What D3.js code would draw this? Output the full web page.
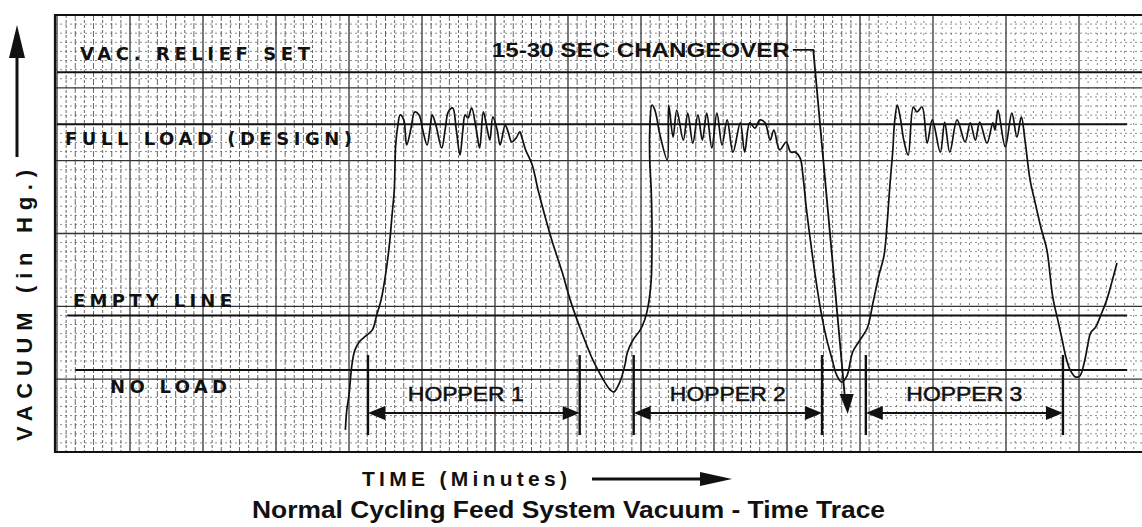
<!DOCTYPE html>
<html>
<head>
<meta charset="utf-8">
<script src="https://cdn.jsdelivr.net/npm/d3@7"></script>
<style>
  html, body { margin: 0; padding: 0; background: #fff; }
  svg { display: block; }
</style>
</head>
<body>
<svg id="chart" width="1142" height="527"></svg>
<script>
// Recorder trace: elapsed time (minutes) and vacuum (in Hg)
const traceTime = [
  3.95,3.97,4.00,4.04,4.08,4.14,4.23,4.32,4.38,4.44,4.51,4.56,4.59,4.62,4.63,4.64,4.67,4.70,
  4.75,4.79,4.85,4.90,4.96,5.01,5.07,5.11,5.14,5.19,5.27,5.32,5.36,5.42,5.47,5.52,5.56,5.59,5.63,5.68,
  5.74,5.79,5.84,5.89,5.93,5.97,6.03,6.07,6.14,6.18,6.23,6.29,6.34,6.37,6.42,6.51,
  6.59,6.68,6.79,6.92,7.03,7.16,7.34,7.47,7.58,7.63,7.71,7.78,7.81,7.89,7.99,8.05,8.10,8.14,8.15,8.15,8.14,8.12,8.12,8.15,
  8.19,8.26,8.36,8.38,8.44,8.49,8.58,8.64,8.71,8.78,8.84,8.90,8.97,9.04,9.11,9.18,9.26,9.36,9.42,9.49,
  9.56,9.63,9.70,9.77,9.82,9.90,9.99,10.05,10.11,10.18,
  10.22,10.26,10.32,10.38,10.45,10.53,10.62,10.68,10.75,10.82,10.90,11.00,11.10,11.18,11.26,11.33,11.37,11.41,11.45,11.47,11.51,
  11.55,11.60,11.66,11.73,11.78,11.85,11.92,11.99,12.10,12.16,12.23,12.33,12.44,12.51,12.58,12.64,12.74,12.82,12.85,12.89,
  12.99,13.08,13.15,13.21,13.26,
  13.33,13.40,13.48,13.56,13.64,13.71,13.77,13.82,13.88,13.95,14.01,14.08,14.12,14.16,14.23,14.30,14.38,14.45,14.52
];
const traceVacuum = [
  0.81,1.54,2.09,3.19,3.73,4.03,4.25,4.47,5.02,5.57,6.66,7.76,8.68,9.59,10.51,11.24,11.97,12.34,
  12.16,11.24,11.86,12.45,12.34,11.79,11.24,11.86,12.34,11.97,11.13,11.86,12.45,12.60,11.79,10.87,11.79,12.34,12.23,12.60,
  11.86,11.13,12.45,11.86,11.42,12.27,11.79,11.24,11.97,11.72,11.35,11.50,11.72,11.50,11.06,10.51,
  9.59,8.68,7.65,6.59,5.57,4.58,3.37,2.71,2.27,2.20,2.56,3.19,3.62,4.10,4.47,4.83,5.38,6.30,7.40,8.49,9.59,10.69,11.79,12.70,
  12.52,11.61,10.69,12.70,11.53,12.52,11.42,12.41,11.31,12.34,11.42,12.41,11.13,12.41,11.24,12.16,10.98,12.05,10.98,12.05,
  11.86,12.16,12.05,11.42,11.79,11.06,11.35,10.98,10.98,10.76,
  10.07,9.04,7.76,6.59,5.38,4.28,3.37,2.82,2.56,2.78,3.66,4.10,4.54,5.49,6.48,7.21,8.31,9.78,11.06,11.97,12.70,
  12.27,11.42,10.87,12.63,12.45,12.63,11.31,12.16,10.98,12.08,10.98,12.16,11.35,12.05,11.42,12.08,11.31,12.05,11.79,12.52,
  11.17,12.41,11.53,12.27,11.42,
  9.96,9.12,8.20,7.40,5.68,4.83,4.10,3.48,3.00,2.75,2.78,3.37,3.92,4.36,4.58,5.02,5.57,6.22,6.92
];

// Reference vacuum levels
const levelNames  = ["VAC. RELIEF SET", "FULL LOAD (DESIGN)", "EMPTY LINE", "NO LOAD"];
const levelValues = [13.9, 12.0, 5.0, 3.0];
const levelFrom   = [0, 0, 0.14, 0.25];
const levelTo     = [15, 14.66, 14.66, 14.66];

// Hopper fill intervals (minutes)
const hopperNames = ["HOPPER 1", "HOPPER 2", "HOPPER 3"];
const hopperStart = [4.26, 7.90, 11.08];
const hopperEnd   = [7.16, 10.48, 13.78];

// Changeover marker (minutes, in Hg)
const changeoverLabel = "15-30 SEC CHANGEOVER";
const changeoverTime  = [10.08, 10.36, 10.79];
const changeoverVac   = [14.72, 14.72, 2.09];

// Chart paper divisions
const timeMax = 15, vacMax = 16;
const timeMinorStep = 1 / 8, vacMinorStep = 1 / 3, majorEvery = 8;

const svg = d3.select("#chart");
const W = 1142, H = 527;
const plot = { left: 55, top: 15, right: 1142, bottom: 452 };

const x = d3.scaleLinear().domain([0, timeMax]).range([57, 57 + 73 * timeMax]);
const y = d3.scaleLinear().domain([0, vacMax]).range([452, 15]);

svg.append("rect").attr("width", W).attr("height", H).attr("fill", "#fff");

svg.append("defs").append("clipPath").attr("id", "plotClip")
  .append("rect")
  .attr("x", plot.left).attr("y", plot.top)
  .attr("width", plot.right - plot.left).attr("height", plot.bottom - plot.top);

const paper = svg.append("g").attr("clip-path", "url(#plotClip)");

// Minor grid: horizontal dotted rows
const hVals = d3.range(0, vacMax + 1e-6, vacMinorStep);
paper.append("g").selectAll("line")
  .data(hVals.filter((d, i) => i % majorEvery !== 0))
  .join("line")
  .attr("x1", plot.left).attr("x2", plot.right)
  .attr("y1", d => y(d)).attr("y2", d => y(d))
  .attr("stroke", "#444").attr("stroke-width", 1)
  .attr("stroke-dasharray", "2,3").attr("opacity", 0.6);

// Minor grid: vertical lines (denser, darker ruling on the left of the strip)
const vVals = d3.range(0, timeMax + 1e-6, timeMinorStep);
paper.append("g").selectAll("line")
  .data(vVals.filter((d, i) => i % majorEvery !== 0))
  .join("line")
  .attr("x1", d => x(d)).attr("x2", d => x(d))
  .attr("y1", plot.top).attr("y2", plot.bottom)
  .attr("stroke", d => d < 11.3 ? "#444" : "#555")
  .attr("stroke-width", 1)
  .attr("stroke-dasharray", (d, i) => d < 11.3 ? (i % 2 ? "6,2" : "3,2") : "2,4")
  .attr("opacity", d => d < 11.3 ? 0.8 : 0.7);

// Major grid
paper.append("g").selectAll("line")
  .data(hVals.filter((d, i) => i % majorEvery === 0))
  .join("line")
  .attr("x1", plot.left).attr("x2", plot.right)
  .attr("y1", d => y(d)).attr("y2", d => y(d))
  .attr("stroke", "#333").attr("stroke-width", 1.3);

paper.append("g").selectAll("line")
  .data(vVals.filter((d, i) => i % majorEvery === 0))
  .join("line")
  .attr("x1", d => x(d)).attr("x2", d => x(d))
  .attr("y1", plot.top).attr("y2", plot.bottom)
  .attr("stroke", "#333").attr("stroke-width", 1.3);

// Reference level lines
paper.append("g").selectAll("line")
  .data(levelValues)
  .join("line")
  .attr("x1", (d, i) => x(levelFrom[i])).attr("x2", (d, i) => x(levelTo[i]))
  .attr("y1", d => y(d)).attr("y2", d => y(d))
  .attr("stroke", "#111").attr("stroke-width", 2);

// Frame
svg.append("path")
  .attr("d", `M${plot.right + 2},${plot.top} H${plot.left} V${plot.bottom} H${plot.right + 2}`)
  .attr("fill", "none").attr("stroke", "#111").attr("stroke-width", 2.2);

// Level labels
const stencilFont = "'DejaVu Sans', 'Liberation Sans', sans-serif";
const levelLabelLayout = [
  { x: 80, y: 60, w: 230 },
  { x: 65, y: 145, w: 287 },
  { x: 73, y: 307, w: 159 },
  { x: 110, y: 393, w: 117 }
];
svg.append("g").selectAll("text")
  .data(levelNames)
  .join("text")
  .attr("x", (d, i) => levelLabelLayout[i].x)
  .attr("y", (d, i) => levelLabelLayout[i].y)
  .attr("textLength", (d, i) => levelLabelLayout[i].w)
  .attr("lengthAdjust", "spacing")
  .attr("font-family", stencilFont)
  .attr("font-weight", "bold")
  .attr("font-size", 18)
  .attr("fill", "#111")
  .text(d => d);

// Vacuum trace
const points = traceTime.map((t, i) => [t, traceVacuum[i]]);
const traceLine = d3.line()
  .x(d => x(d[0])).y(d => y(d[1]))
  .curve(d3.curveCatmullRom.alpha(0.5));
paper.append("path")
  .datum(points)
  .attr("d", traceLine)
  .attr("fill", "none")
  .attr("stroke", "#111")
  .attr("stroke-width", 1.7)
  .attr("stroke-linejoin", "round");

// Hopper intervals: bars, double arrows and labels
const barTop = 3.55, barBottom = 0.62, arrowVac = 1.43, hopperLabelVac = 1.87;
const head = 17, halfHead = 7;
const hopG = svg.append("g");
hopperNames.forEach((name, i) => {
  const x0 = x(hopperStart[i]), x1 = x(hopperEnd[i]), ya = y(arrowVac);
  [x0, x1].forEach(bx => {
    hopG.append("line")
      .attr("x1", bx).attr("x2", bx)
      .attr("y1", y(barTop)).attr("y2", y(barBottom))
      .attr("stroke", "#111").attr("stroke-width", 2.4);
  });
  hopG.append("line")
    .attr("x1", x0 + head - 2).attr("x2", x1 - head + 2)
    .attr("y1", ya).attr("y2", ya)
    .attr("stroke", "#111").attr("stroke-width", 2);
  hopG.append("path")
    .attr("d", `M${x0},${ya} L${x0 + head},${ya - halfHead} L${x0 + head},${ya + halfHead} Z`)
    .attr("fill", "#111");
  hopG.append("path")
    .attr("d", `M${x1},${ya} L${x1 - head},${ya - halfHead} L${x1 - head},${ya + halfHead} Z`)
    .attr("fill", "#111");
  hopG.append("text")
    .attr("x", (x0 + x1) / 2 + (i === 0 ? -8 : 0))
    .attr("y", y(hopperLabelVac))
    .attr("text-anchor", "middle")
    .attr("textLength", 116)
    .attr("lengthAdjust", "spacingAndGlyphs")
    .attr("font-family", "'Liberation Sans', Arial, sans-serif")
    .attr("font-size", 20)
    .attr("fill", "#111")
    .attr("stroke", "#111").attr("stroke-width", 0.5)
    .text(name);
});

// Changeover marker
const coPts = changeoverTime.map((t, i) => [x(t), y(changeoverVac[i])]);
svg.append("path")
  .attr("d", d3.line()(coPts))
  .attr("fill", "none").attr("stroke", "#111").attr("stroke-width", 1.8);
const tip = [coPts[2][0] + 3, coPts[2][1] + 19];
svg.append("path")
  .attr("d", `M${tip[0]},${tip[1]} L${coPts[2][0] - 5},${coPts[2][1] - 1} L${coPts[2][0] + 9},${coPts[2][1] - 1} Z`)
  .attr("fill", "#111");
svg.append("text")
  .attr("x", coPts[0][0] - 3).attr("y", 57)
  .attr("text-anchor", "end")
  .attr("textLength", 298)
  .attr("lengthAdjust", "spacingAndGlyphs")
  .attr("font-family", "'Liberation Sans', Arial, sans-serif")
  .attr("font-weight", "bold")
  .attr("font-size", 20)
  .attr("fill", "#111")
  .text(changeoverLabel);

// Axis titles
svg.append("text")
  .attr("transform", "translate(32,441) rotate(-90)")
  .attr("textLength", 271)
  .attr("lengthAdjust", "spacing")
  .attr("font-family", "'Liberation Sans', Arial, sans-serif")
  .attr("font-weight", "bold")
  .attr("font-size", 22)
  .attr("fill", "#111")
  .text("VACUUM (in Hg.)");
svg.append("line")
  .attr("x1", 17).attr("x2", 17).attr("y1", 157).attr("y2", 50)
  .attr("stroke", "#111").attr("stroke-width", 3);
svg.append("path")
  .attr("d", "M17,25 L9,58 L25,58 Z").attr("fill", "#111");

svg.append("text")
  .attr("x", 362).attr("y", 486)
  .attr("textLength", 205)
  .attr("lengthAdjust", "spacing")
  .attr("font-family", "'Liberation Sans', Arial, sans-serif")
  .attr("font-weight", "bold")
  .attr("font-size", 21)
  .attr("fill", "#111")
  .text("TIME (Minutes)");
svg.append("line")
  .attr("x1", 592).attr("x2", 705).attr("y1", 479).attr("y2", 479)
  .attr("stroke", "#111").attr("stroke-width", 3);
svg.append("path")
  .attr("d", "M732,479 L700,472 L700,486 Z").attr("fill", "#111");

// Caption
svg.append("text")
  .attr("x", 252).attr("y", 518)
  .attr("textLength", 633)
  .attr("lengthAdjust", "spacingAndGlyphs")
  .attr("font-family", "'Liberation Sans', Arial, sans-serif")
  .attr("font-weight", "bold")
  .attr("font-size", 23)
  .attr("fill", "#111")
  .text("Normal Cycling Feed System Vacuum - Time Trace");
</script>
</body>
</html>
